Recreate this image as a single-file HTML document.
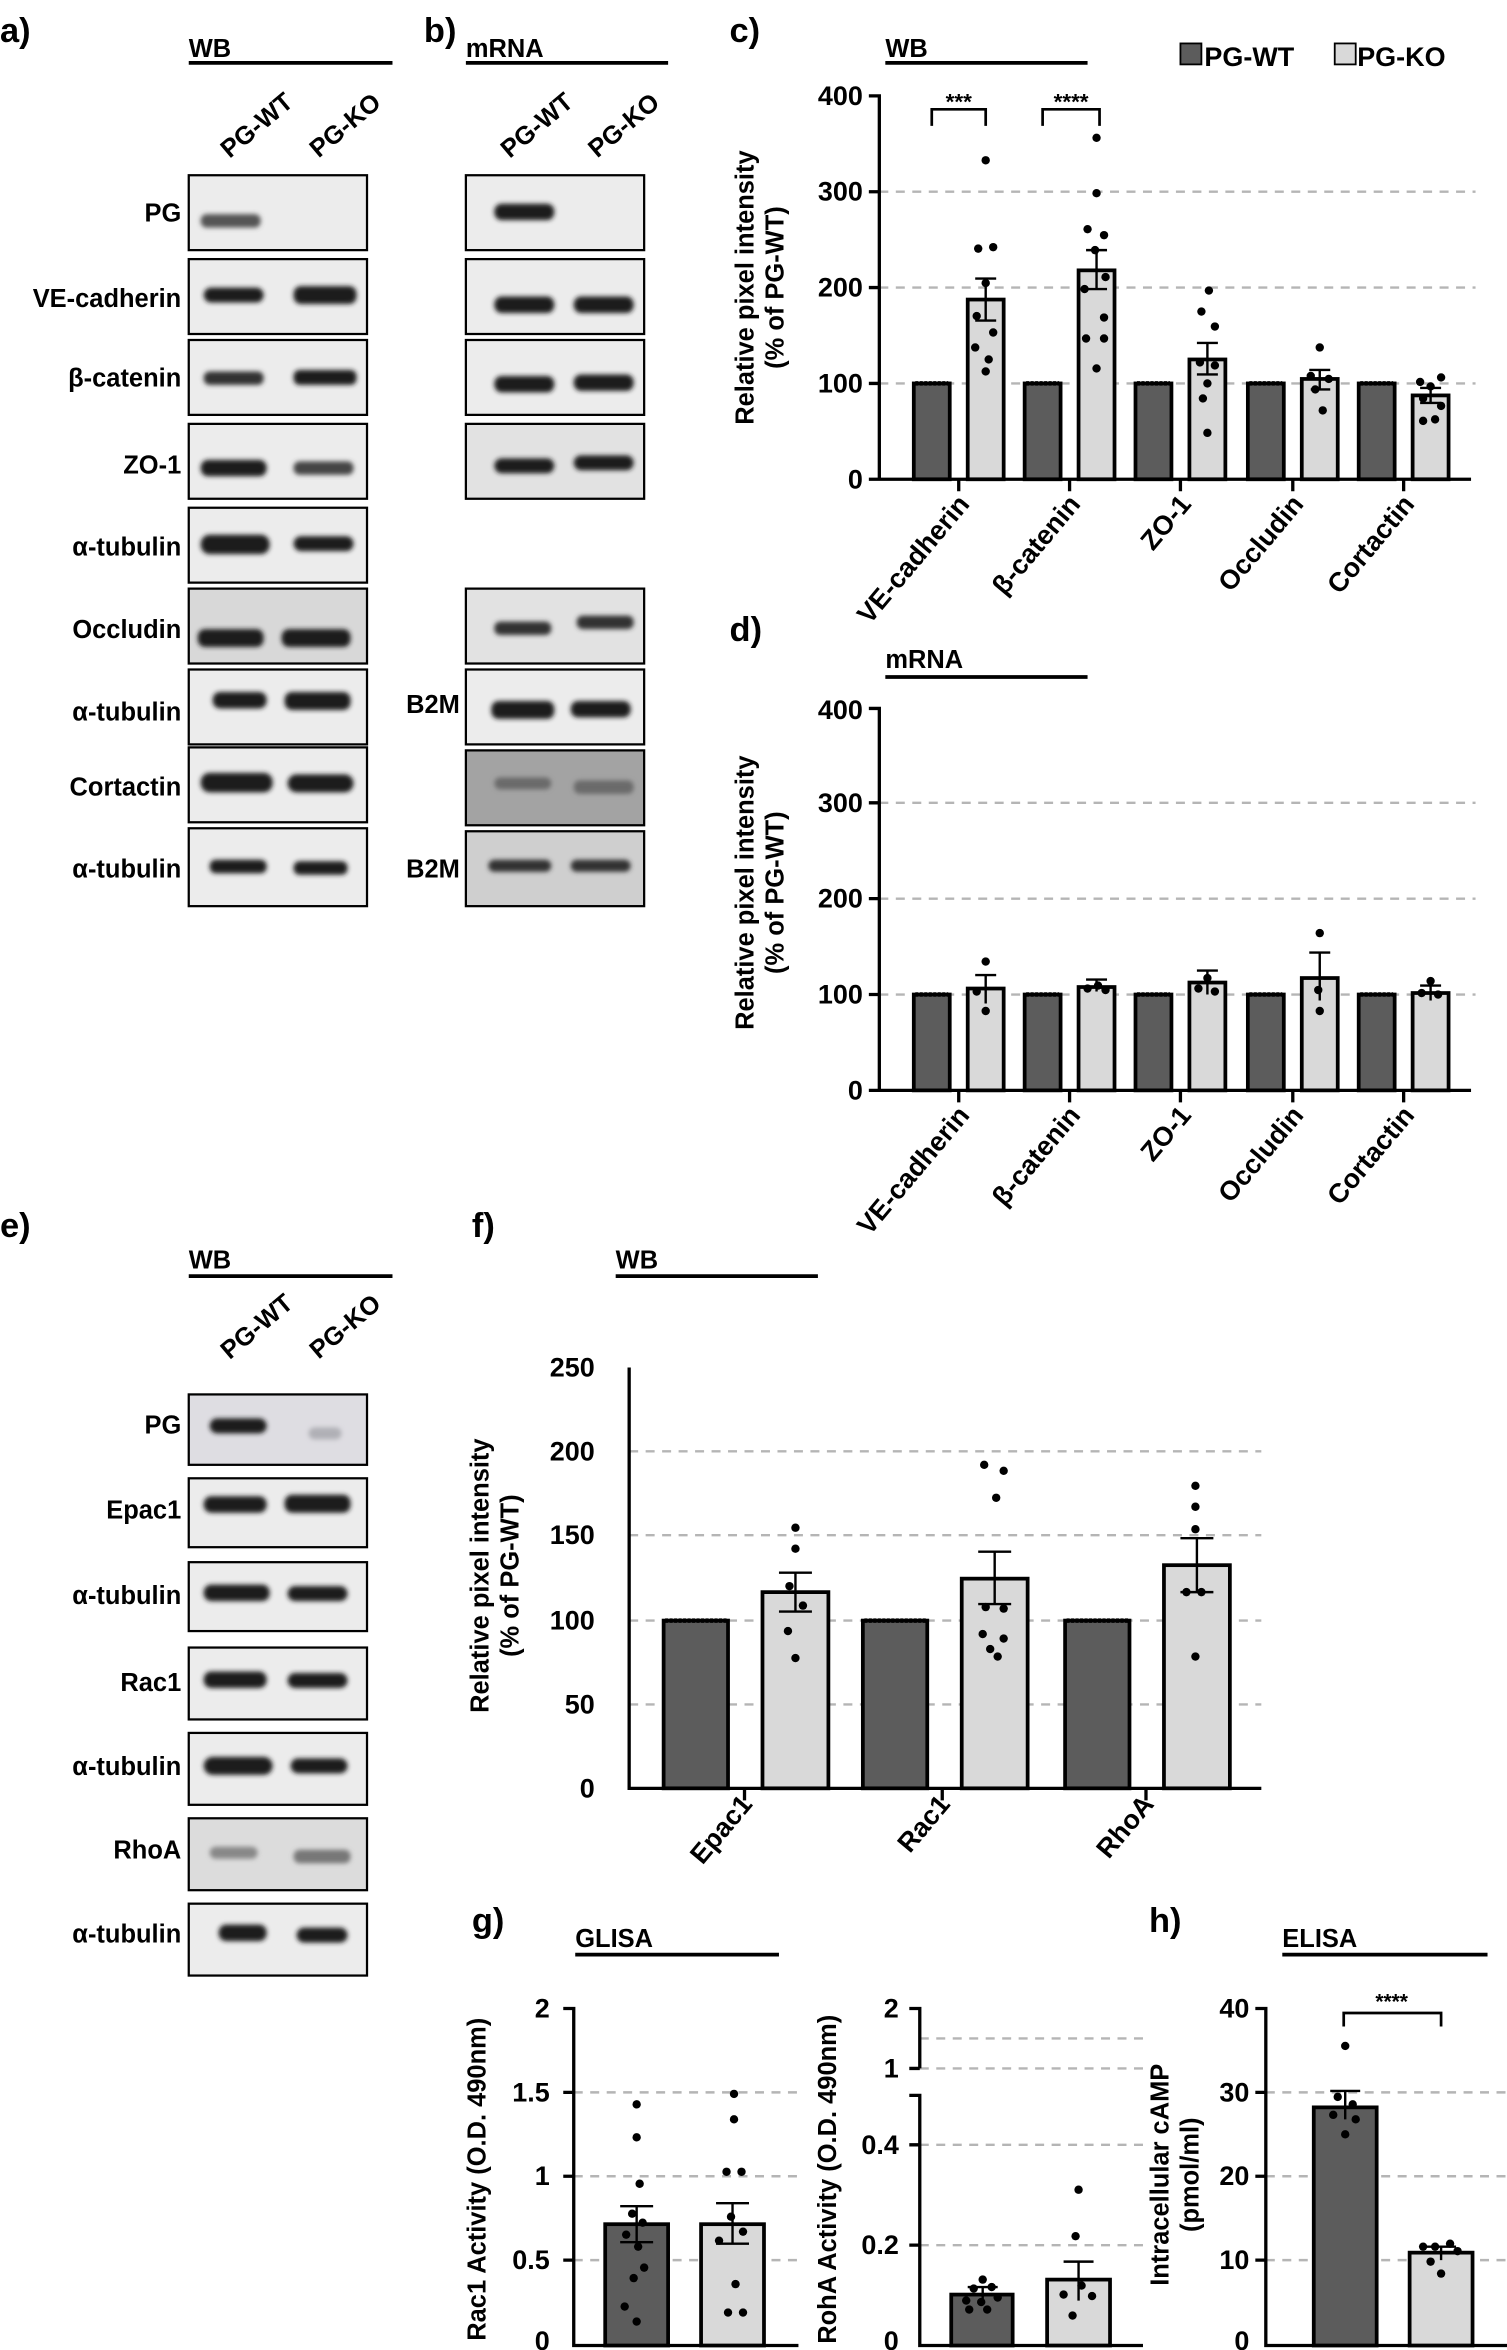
<!DOCTYPE html>
<html><head><meta charset="utf-8"><style>
html,body{margin:0;padding:0;background:#fff;}
svg{display:block;}
text{font-family:"Liberation Sans Narrow","Liberation Sans",sans-serif;font-weight:bold;fill:#000;}
.bx{fill:#ececec;stroke:#000;stroke-width:1.5;}
.bd{fill:#1a1a1a;filter:url(#bl);}
.wt{fill:#5c5c5c;stroke:#000;stroke-width:2.5;}
.ko{fill:#d9d9d9;stroke:#000;stroke-width:2.5;}
.gr{stroke:#b5b5b5;stroke-width:1.6;stroke-dasharray:6,5;}
.ax{stroke:#000;stroke-width:2.2;fill:none;}
.er{stroke:#000;stroke-width:1.6;fill:none;}
.t{font-size:18px;text-anchor:end;}
.lb{font-size:17px;text-anchor:end;}
</style></head><body>
<svg width="1507" height="2350" viewBox="0 0 1006 1569" preserveAspectRatio="none" xmlns="http://www.w3.org/2000/svg">
<defs><filter id="bl" x="-20%" y="-50%" width="140%" height="200%"><feGaussianBlur stdDeviation="1.6"/></filter></defs>

<!-- Panel a -->
<text x="0" y="28" font-size="23">a)</text>
<text x="126" y="38" font-size="17">WB</text>
<line x1="126" y1="42" x2="262" y2="42" stroke="#000" stroke-width="2.5"/>
<text transform="translate(175,88) rotate(-40)" font-size="17" text-anchor="middle">PG-WT</text>
<text transform="translate(234,88) rotate(-40)" font-size="17" text-anchor="middle">PG-KO</text>
<g>
<rect class="bx" x="126" y="117" width="119" height="50"/>
<rect class="bd" x="134" y="143" width="40" height="9" rx="4" style="fill:#555"/>
<text class="lb" x="121" y="148">PG</text>
<rect class="bx" x="126" y="173" width="119" height="50"/>
<rect class="bd" x="136" y="192" width="40" height="10" rx="5"/><rect class="bd" x="196" y="191" width="42" height="12" rx="5"/>
<text class="lb" x="121" y="205">VE-cadherin</text>
<rect class="bx" x="126" y="227" width="119" height="50"/>
<rect class="bd" x="136" y="248" width="40" height="9" rx="4" style="fill:#333"/><rect class="bd" x="196" y="247" width="42" height="10" rx="4"/>
<text class="lb" x="121" y="258">β-catenin</text>
<rect class="bx" x="126" y="283" width="119" height="50"/>
<rect class="bd" x="134" y="307" width="44" height="11" rx="5"/><rect class="bd" x="196" y="308" width="40" height="9" rx="4" style="fill:#444"/>
<text class="lb" x="121" y="316">ZO-1</text>
<rect class="bx" x="126" y="339" width="119" height="50"/>
<rect class="bd" x="134" y="357" width="46" height="13" rx="6"/><rect class="bd" x="196" y="358" width="40" height="10" rx="5"/>
<text class="lb" x="121" y="371">α-tubulin</text>
<rect class="bx" x="126" y="393" width="119" height="50" style="fill:#d8d8d8"/>
<rect class="bd" x="132" y="420" width="44" height="12" rx="5"/><rect class="bd" x="188" y="420" width="46" height="12" rx="5"/>
<text class="lb" x="121" y="426">Occludin</text>
<rect class="bx" x="126" y="447" width="119" height="50"/>
<rect class="bd" x="142" y="462" width="36" height="11" rx="5"/><rect class="bd" x="190" y="462" width="44" height="12" rx="5"/>
<text class="lb" x="121" y="481">α-tubulin</text>
<rect class="bx" x="126" y="499" width="119" height="50"/>
<rect class="bd" x="134" y="516" width="48" height="13" rx="6"/><rect class="bd" x="192" y="517" width="44" height="12" rx="6"/>
<text class="lb" x="121" y="531">Cortactin</text>
<rect class="bx" x="126" y="553" width="119" height="52"/>
<rect class="bd" x="140" y="574" width="38" height="9" rx="4"/><rect class="bd" x="196" y="575" width="36" height="9" rx="4"/>
<text class="lb" x="121" y="586">α-tubulin</text>
</g>

<!-- Panel b -->
<text x="283" y="28" font-size="23">b)</text>
<text x="311" y="38" font-size="17">mRNA</text>
<line x1="311" y1="42" x2="446" y2="42" stroke="#000" stroke-width="2.5"/>
<text transform="translate(362,88) rotate(-40)" font-size="17" text-anchor="middle">PG-WT</text>
<text transform="translate(420,88) rotate(-40)" font-size="17" text-anchor="middle">PG-KO</text>
<rect class="bx" x="311" y="117" width="119" height="50"/>
<rect class="bd" x="330" y="136" width="40" height="11" rx="5"/>
<rect class="bx" x="311" y="173" width="119" height="50"/>
<rect class="bd" x="330" y="198" width="40" height="11" rx="5"/><rect class="bd" x="383" y="198" width="40" height="11" rx="5"/>
<rect class="bx" x="311" y="227" width="119" height="50"/>
<rect class="bd" x="330" y="251" width="40" height="11" rx="5"/><rect class="bd" x="383" y="250" width="40" height="11" rx="5"/>
<rect class="bx" x="311" y="283" width="119" height="50" style="fill:#e2e2e2"/>
<rect class="bd" x="330" y="306" width="40" height="10" rx="5"/><rect class="bd" x="383" y="304" width="40" height="10" rx="5"/>
<rect class="bx" x="311" y="393" width="119" height="50" style="fill:#e2e2e2"/>
<rect class="bd" x="330" y="415" width="38" height="9" rx="4" style="fill:#333"/><rect class="bd" x="385" y="411" width="38" height="9" rx="4" style="fill:#333"/>
<rect class="bx" x="311" y="447" width="119" height="50"/>
<rect class="bd" x="328" y="468" width="42" height="12" rx="5"/><rect class="bd" x="381" y="468" width="40" height="11" rx="5"/>
<text class="lb" x="307" y="476">B2M</text>
<rect class="bx" x="311" y="501" width="119" height="50" style="fill:#a3a3a3"/>
<rect class="bd" x="330" y="519" width="38" height="8" rx="4" style="fill:#6a6a6a"/><rect class="bd" x="383" y="521" width="40" height="9" rx="4" style="fill:#6a6a6a"/>
<rect class="bx" x="311" y="555" width="119" height="50" style="fill:#cfcfcf"/>
<rect class="bd" x="326" y="574" width="42" height="8" rx="4" style="fill:#333"/><rect class="bd" x="381" y="574" width="40" height="8" rx="4" style="fill:#333"/>
<text class="lb" x="307" y="586">B2M</text>

<!-- Panel c -->
<text x="487" y="28" font-size="23">c)</text>
<text x="591" y="38" font-size="17">WB</text>
<line x1="591" y1="42" x2="726" y2="42" stroke="#000" stroke-width="2.5"/>
<rect x="788" y="29" width="14" height="14" class="wt" style="stroke-width:1.2"/>
<text x="804" y="44" font-size="18">PG-WT</text>
<rect x="891" y="29" width="14" height="14" class="ko" style="stroke-width:1.2"/>
<text x="906" y="44" font-size="18">PG-KO</text>
<g>
<line class="gr" x1="587" y1="128" x2="985" y2="128"/>
<line class="gr" x1="587" y1="192" x2="985" y2="192"/>
<line class="gr" x1="587" y1="256" x2="985" y2="256"/>
<text class="t" x="576" y="70">400</text><text class="t" x="576" y="134">300</text><text class="t" x="576" y="198">200</text><text class="t" x="576" y="262">100</text><text class="t" x="576" y="326">0</text>
<path class="ax" d="M580,64H587V320M580,128H587M580,192H587M580,256H587M580,320H982M640,320V328M714,320V328M788,320V328M863,320V328M937,320V328"/>
<rect class="wt" x="610" y="256" width="24" height="64"/><rect class="ko" x="646" y="200" width="24" height="120"/>
<rect class="wt" x="684" y="256" width="24" height="64"/><rect class="ko" x="720" y="180.5" width="24" height="139.5"/>
<rect class="wt" x="758" y="256" width="24" height="64"/><rect class="ko" x="794" y="240" width="24" height="80"/>
<rect class="wt" x="833" y="256" width="24" height="64"/><rect class="ko" x="869" y="253" width="24" height="67"/>
<rect class="wt" x="907" y="256" width="24" height="64"/><rect class="ko" x="943" y="264" width="24" height="56"/>
<path class="er" d="M658,186V214M651,186H665M651,214H665M732,167V193M725,167H739M725,193H739M806,229V250M799,229H813M799,250H813M881,247V260M874,247H888M875,260H888M955,259V269M948,259H962M948,269H962"/>
<path class="ax" d="M611,256H633M685,256H707M759,256H781M834,256H856M908,256H930" style="stroke-width:3;stroke-dasharray:2,1"/>
<g fill="#000">
<circle cx="658" cy="107" r="2.8"/><circle cx="653" cy="166" r="2.8"/><circle cx="663" cy="165" r="2.8"/><circle cx="658" cy="189" r="2.8"/><circle cx="652" cy="211" r="2.8"/><circle cx="663" cy="222" r="2.8"/><circle cx="651" cy="232" r="2.8"/><circle cx="660" cy="240" r="2.8"/><circle cx="658" cy="248" r="2.8"/>
<circle cx="732" cy="92" r="2.8"/><circle cx="732" cy="129" r="2.8"/><circle cx="726" cy="153" r="2.8"/><circle cx="737" cy="157" r="2.8"/><circle cx="731" cy="167" r="2.8"/><circle cx="738" cy="185" r="2.8"/><circle cx="724" cy="193" r="2.8"/><circle cx="737" cy="212" r="2.8"/><circle cx="725" cy="226" r="2.8"/><circle cx="737" cy="226" r="2.8"/><circle cx="732" cy="246" r="2.8"/>
<circle cx="807" cy="194" r="2.8"/><circle cx="802" cy="208" r="2.8"/><circle cx="811" cy="218" r="2.8"/><circle cx="801" cy="242" r="2.8"/><circle cx="811" cy="244" r="2.8"/><circle cx="806" cy="256" r="2.8"/><circle cx="803" cy="266" r="2.8"/><circle cx="806" cy="289" r="2.8"/>
<circle cx="881" cy="232" r="2.8"/><circle cx="875" cy="251" r="2.8"/><circle cx="887" cy="253" r="2.8"/><circle cx="878" cy="260" r="2.8"/><circle cx="883" cy="274" r="2.8"/>
<circle cx="948" cy="255" r="2.8"/><circle cx="962" cy="252" r="2.8"/><circle cx="955" cy="258" r="2.8"/><circle cx="950" cy="266" r="2.8"/><circle cx="962" cy="271" r="2.8"/><circle cx="950" cy="281" r="2.8"/><circle cx="958" cy="280" r="2.8"/>
</g>
<path class="er" d="M622,84V73H658V84M696,84V73H734V84" style="stroke-width:1.8"/>
<text x="640" y="73" font-size="15" text-anchor="middle">***</text>
<text x="715" y="73" font-size="15" text-anchor="middle">****</text>
<text transform="translate(648,337) rotate(-50)" font-size="18" text-anchor="end">VE-cadherin</text>
<text transform="translate(722,337) rotate(-50)" font-size="18" text-anchor="end">β-catenin</text>
<text transform="translate(796,337) rotate(-50)" font-size="18" text-anchor="end">ZO-1</text>
<text transform="translate(871,337) rotate(-50)" font-size="18" text-anchor="end">Occludin</text>
<text transform="translate(945,337) rotate(-50)" font-size="18" text-anchor="end">Cortactin</text>
<text transform="translate(503,192) rotate(-90)" font-size="17" text-anchor="middle">Relative pixel intensity</text>
<text transform="translate(523,192) rotate(-90)" font-size="17" text-anchor="middle">(% of PG-WT)</text>
</g>

<!-- Panel d -->
<text x="487" y="428" font-size="23">d)</text>
<text x="591" y="446" font-size="17">mRNA</text>
<line x1="591" y1="452" x2="726" y2="452" stroke="#000" stroke-width="2.5"/>
<g>
<line class="gr" x1="587" y1="536" x2="985" y2="536"/>
<line class="gr" x1="587" y1="600" x2="985" y2="600"/>
<line class="gr" x1="587" y1="664" x2="985" y2="664"/>
<text class="t" x="576" y="480">400</text><text class="t" x="576" y="542">300</text><text class="t" x="576" y="606">200</text><text class="t" x="576" y="670">100</text><text class="t" x="576" y="734">0</text>
<path class="ax" d="M580,473H587V728M580,536H587M580,600H587M580,664H587M580,728H982M640,728V736M714,728V736M788,728V736M863,728V736M937,728V736"/>
<rect class="wt" x="610" y="664" width="24" height="64"/><rect class="ko" x="646" y="660" width="24" height="68"/>
<rect class="wt" x="684" y="664" width="24" height="64"/><rect class="ko" x="720" y="659" width="24" height="69"/>
<rect class="wt" x="758" y="664" width="24" height="64"/><rect class="ko" x="794" y="656" width="24" height="72"/>
<rect class="wt" x="833" y="664" width="24" height="64"/><rect class="ko" x="869" y="653" width="24" height="75"/>
<rect class="wt" x="907" y="664" width="24" height="64"/><rect class="ko" x="943" y="663" width="24" height="65"/>
<path class="er" d="M658,651V670M651,651H665M732,654V662M725,654H739M806,648V664M799,648H813M881,636V668M874,636H888M955,658V668M948,658H962"/>
<path class="ax" d="M611,664H633M685,664H707M759,664H781M834,664H856M908,664H930" style="stroke-width:3;stroke-dasharray:2,1"/>
<g fill="#000">
<circle cx="658" cy="642" r="2.8"/><circle cx="652" cy="662" r="2.8"/><circle cx="658" cy="675" r="2.8"/>
<circle cx="726" cy="660" r="2.8"/><circle cx="733" cy="658" r="2.8"/><circle cx="738" cy="661" r="2.8"/>
<circle cx="806" cy="653" r="2.8"/><circle cx="800" cy="660" r="2.8"/><circle cx="811" cy="662" r="2.8"/>
<circle cx="881" cy="623" r="2.8"/><circle cx="880" cy="661" r="2.8"/><circle cx="881" cy="675" r="2.8"/>
<circle cx="955" cy="655" r="2.8"/><circle cx="949" cy="663" r="2.8"/><circle cx="960" cy="664" r="2.8"/>
</g>
<text transform="translate(648,745) rotate(-50)" font-size="18" text-anchor="end">VE-cadherin</text>
<text transform="translate(722,745) rotate(-50)" font-size="18" text-anchor="end">β-catenin</text>
<text transform="translate(796,745) rotate(-50)" font-size="18" text-anchor="end">ZO-1</text>
<text transform="translate(871,745) rotate(-50)" font-size="18" text-anchor="end">Occludin</text>
<text transform="translate(945,745) rotate(-50)" font-size="18" text-anchor="end">Cortactin</text>
<text transform="translate(503,596) rotate(-90)" font-size="17" text-anchor="middle">Relative pixel intensity</text>
<text transform="translate(523,596) rotate(-90)" font-size="17" text-anchor="middle">(% of PG-WT)</text>
</g>

<!-- Panel e -->
<text x="0" y="826" font-size="23">e)</text>
<text x="126" y="847" font-size="17">WB</text>
<line x1="126" y1="852" x2="262" y2="852" stroke="#000" stroke-width="2.5"/>
<text transform="translate(175,890) rotate(-40)" font-size="17" text-anchor="middle">PG-WT</text>
<text transform="translate(234,890) rotate(-40)" font-size="17" text-anchor="middle">PG-KO</text>
<rect class="bx" x="126" y="931" width="119" height="47" style="fill:#dedde2"/>
<rect class="bd" x="140" y="947" width="38" height="10" rx="5"/><rect class="bd" x="206" y="953" width="22" height="8" rx="4" style="fill:#b0b0b6"/>
<text class="lb" x="121" y="957">PG</text>
<rect class="bx" x="126" y="987" width="119" height="46"/>
<rect class="bd" x="136" y="999" width="42" height="11" rx="5"/><rect class="bd" x="190" y="998" width="44" height="12" rx="5"/>
<text class="lb" x="121" y="1014">Epac1</text>
<rect class="bx" x="126" y="1043" width="119" height="46"/>
<rect class="bd" x="136" y="1058" width="44" height="11" rx="5"/><rect class="bd" x="192" y="1059" width="40" height="10" rx="5"/>
<text class="lb" x="121" y="1071">α-tubulin</text>
<rect class="bx" x="126" y="1100" width="119" height="48"/>
<rect class="bd" x="136" y="1116" width="42" height="11" rx="5"/><rect class="bd" x="192" y="1117" width="40" height="10" rx="5"/>
<text class="lb" x="121" y="1129">Rac1</text>
<rect class="bx" x="126" y="1157" width="119" height="48"/>
<rect class="bd" x="136" y="1173" width="46" height="12" rx="6"/><rect class="bd" x="194" y="1174" width="38" height="10" rx="5"/>
<text class="lb" x="121" y="1185">α-tubulin</text>
<rect class="bx" x="126" y="1214" width="119" height="48" style="fill:#dcdcdc"/>
<rect class="bd" x="140" y="1233" width="32" height="8" rx="4" style="fill:#888"/><rect class="bd" x="196" y="1235" width="38" height="9" rx="4" style="fill:#777"/>
<text class="lb" x="121" y="1241">RhoA</text>
<rect class="bx" x="126" y="1271" width="119" height="48"/>
<rect class="bd" x="146" y="1285" width="32" height="11" rx="5"/><rect class="bd" x="198" y="1287" width="34" height="10" rx="5"/>
<text class="lb" x="121" y="1297">α-tubulin</text>

<!-- Panel f -->
<text x="315" y="826" font-size="23">f)</text>
<text x="411" y="847" font-size="17">WB</text>
<line x1="411" y1="852" x2="546" y2="852" stroke="#000" stroke-width="2.5"/>
<g>
<line class="gr" x1="420" y1="969" x2="842" y2="969"/>
<line class="gr" x1="420" y1="1025" x2="842" y2="1025"/>
<line class="gr" x1="420" y1="1082" x2="842" y2="1082"/>
<line class="gr" x1="420" y1="1138" x2="842" y2="1138"/>
<text class="t" x="397" y="919">250</text><text class="t" x="397" y="975">200</text><text class="t" x="397" y="1031">150</text><text class="t" x="397" y="1088">100</text><text class="t" x="397" y="1144">50</text><text class="t" x="397" y="1200">0</text>
<path class="ax" d="M420,913V1194H842M497,1194V1202M629,1194V1202M765,1194V1202"/>
<rect class="wt" x="443" y="1082" width="43" height="112"/><rect class="ko" x="509" y="1063" width="44" height="131"/>
<rect class="wt" x="576" y="1082" width="43" height="112"/><rect class="ko" x="642" y="1054" width="44" height="140"/>
<rect class="wt" x="711" y="1082" width="43" height="112"/><rect class="ko" x="777" y="1045" width="44" height="149"/>
<path class="er" d="M531,1050V1076M520,1050H542M520,1076H542M664,1036V1071M653,1036H675M653,1071H675M799,1027V1063M788,1027H810M788,1063H810"/>
<path class="ax" d="M444,1082H485M577,1082H618M712,1082H753" style="stroke-width:3;stroke-dasharray:2,1"/>
<g fill="#000">
<circle cx="531" cy="1020" r="2.8"/><circle cx="531" cy="1034" r="2.8"/><circle cx="527" cy="1059" r="2.8"/><circle cx="536" cy="1072" r="2.8"/><circle cx="526" cy="1089" r="2.8"/><circle cx="531" cy="1107" r="2.8"/>
<circle cx="657" cy="978" r="2.8"/><circle cx="670" cy="982" r="2.8"/><circle cx="665" cy="1000" r="2.8"/><circle cx="658" cy="1073" r="2.8"/><circle cx="670" cy="1074" r="2.8"/><circle cx="656" cy="1091" r="2.8"/><circle cx="670" cy="1094" r="2.8"/><circle cx="661" cy="1101" r="2.8"/><circle cx="666" cy="1106" r="2.8"/>
<circle cx="798" cy="992" r="2.8"/><circle cx="798" cy="1006" r="2.8"/><circle cx="798" cy="1021" r="2.8"/><circle cx="792" cy="1063" r="2.8"/><circle cx="802" cy="1063" r="2.8"/><circle cx="798" cy="1106" r="2.8"/>
</g>
<text transform="translate(503,1205) rotate(-50)" font-size="18" text-anchor="end">Epac1</text>
<text transform="translate(635,1205) rotate(-50)" font-size="18" text-anchor="end">Rac1</text>
<text transform="translate(771,1205) rotate(-50)" font-size="18" text-anchor="end">RhoA</text>
<text transform="translate(326,1052) rotate(-90)" font-size="17" text-anchor="middle">Relative pixel intensity</text>
<text transform="translate(346,1052) rotate(-90)" font-size="17" text-anchor="middle">(% of PG-WT)</text>
</g>

<!-- Panel g -->
<text x="315" y="1290" font-size="23">g)</text>
<text x="384" y="1300" font-size="17">GLISA</text>
<line x1="384" y1="1305" x2="520" y2="1305" stroke="#000" stroke-width="2.5"/>
<g>
<line class="gr" x1="383" y1="1397" x2="533" y2="1397"/>
<line class="gr" x1="383" y1="1453" x2="533" y2="1453"/>
<line class="gr" x1="383" y1="1509" x2="533" y2="1509"/>
<text class="t" x="367" y="1347">2</text><text class="t" x="367" y="1403">1.5</text><text class="t" x="367" y="1459">1</text><text class="t" x="367" y="1515">0.5</text><text class="t" x="367" y="1569">0</text>
<path class="ax" d="M376,1341H383V1566H533M376,1397H383M376,1453H383M376,1509H383"/>
<rect class="wt" x="404" y="1485" width="42" height="81"/><rect class="ko" x="468" y="1485" width="42" height="81"/>
<path class="er" d="M425,1473V1497M414,1473H436M414,1497H436M489,1471V1498M478,1471H500M478,1498H500"/>
<g fill="#000">
<circle cx="425" cy="1405" r="2.8"/><circle cx="425" cy="1427" r="2.8"/><circle cx="427" cy="1458" r="2.8"/><circle cx="422" cy="1478" r="2.8"/><circle cx="429" cy="1484" r="2.8"/><circle cx="418" cy="1492" r="2.8"/><circle cx="426" cy="1500" r="2.8"/><circle cx="430" cy="1514" r="2.8"/><circle cx="423" cy="1521" r="2.8"/><circle cx="417" cy="1540" r="2.8"/><circle cx="425" cy="1550" r="2.8"/>
<circle cx="490" cy="1398" r="2.8"/><circle cx="490" cy="1415" r="2.8"/><circle cx="485" cy="1450" r="2.8"/><circle cx="495" cy="1450" r="2.8"/><circle cx="488" cy="1480" r="2.8"/><circle cx="496" cy="1490" r="2.8"/><circle cx="480" cy="1496" r="2.8"/><circle cx="491" cy="1525" r="2.8"/><circle cx="486" cy="1544" r="2.8"/><circle cx="496" cy="1544" r="2.8"/>
</g>
<text transform="translate(324,1455) rotate(-90)" font-size="17" text-anchor="middle">Rac1 Activity (O.D. 490nm)</text>
</g>
<g>
<line class="gr" x1="614" y1="1361" x2="763" y2="1361"/>
<line class="gr" x1="614" y1="1381" x2="763" y2="1381"/>
<line class="gr" x1="614" y1="1432" x2="763" y2="1432"/>
<line class="gr" x1="614" y1="1499" x2="763" y2="1499"/>
<text class="t" x="600" y="1347">2</text><text class="t" x="600" y="1387">1</text><text class="t" x="600" y="1438">0.4</text><text class="t" x="600" y="1505">0.2</text><text class="t" x="600" y="1569">0</text>
<path class="ax" d="M607,1341H614V1381M607,1381H614M607,1399H614V1566H763M607,1432H614M607,1499H614"/>
<rect class="wt" x="635" y="1532" width="41" height="34"/><rect class="ko" x="699" y="1522" width="42" height="44"/>
<path class="er" d="M656,1527V1537M646,1527H666M720,1510V1536M710,1510H730"/>
<g fill="#000">
<circle cx="656" cy="1522" r="2.8"/><circle cx="650" cy="1528" r="2.8"/><circle cx="662" cy="1527" r="2.8"/><circle cx="645" cy="1536" r="2.8"/><circle cx="655" cy="1537" r="2.8"/><circle cx="666" cy="1534" r="2.8"/><circle cx="659" cy="1542" r="2.8"/><circle cx="647" cy="1542" r="2.8"/>
<circle cx="720" cy="1462" r="2.8"/><circle cx="718" cy="1493" r="2.8"/><circle cx="722" cy="1526" r="2.8"/><circle cx="710" cy="1532" r="2.8"/><circle cx="729" cy="1533" r="2.8"/><circle cx="716" cy="1546" r="2.8"/>
</g>
<text transform="translate(558,1455) rotate(-90)" font-size="17" text-anchor="middle">RohA Activity (O.D. 490nm)</text>
</g>

<!-- Panel h -->
<text x="767" y="1290" font-size="23">h)</text>
<text x="856" y="1300" font-size="17">ELISA</text>
<line x1="856" y1="1305" x2="993" y2="1305" stroke="#000" stroke-width="2.5"/>
<g>
<line class="gr" x1="845" y1="1397" x2="1006" y2="1397"/>
<line class="gr" x1="845" y1="1453" x2="1006" y2="1453"/>
<line class="gr" x1="845" y1="1509" x2="1006" y2="1509"/>
<text class="t" x="834" y="1347">40</text><text class="t" x="834" y="1403">30</text><text class="t" x="834" y="1459">20</text><text class="t" x="834" y="1515">10</text><text class="t" x="834" y="1569">0</text>
<path class="ax" d="M838,1341H845V1566H1006M838,1397H845M838,1453H845M838,1509H845"/>
<rect class="wt" x="877" y="1407" width="42" height="159"/><rect class="ko" x="941" y="1504" width="42" height="62"/>
<path class="er" d="M898,1396V1415M888,1396H908M962,1500V1509M952,1500H972"/>
<g fill="#000">
<circle cx="898" cy="1366" r="2.8"/><circle cx="893" cy="1400" r="2.8"/><circle cx="903" cy="1405" r="2.8"/><circle cx="890" cy="1412" r="2.8"/><circle cx="905" cy="1415" r="2.8"/><circle cx="898" cy="1425" r="2.8"/>
<circle cx="950" cy="1500" r="2.8"/><circle cx="958" cy="1500" r="2.8"/><circle cx="968" cy="1498" r="2.8"/><circle cx="973" cy="1503" r="2.8"/><circle cx="955" cy="1510" r="2.8"/><circle cx="962" cy="1518" r="2.8"/>
</g>
<path class="er" d="M897,1353V1344H962V1353" style="stroke-width:1.8"/>
<text x="929" y="1341" font-size="14" text-anchor="middle">****</text>
<text transform="translate(780,1452) rotate(-90)" font-size="17" text-anchor="middle">Intracellular cAMP</text>
<text transform="translate(800,1452) rotate(-90)" font-size="17" text-anchor="middle">(pmol/ml)</text>
</g>
</svg>
</body></html>
